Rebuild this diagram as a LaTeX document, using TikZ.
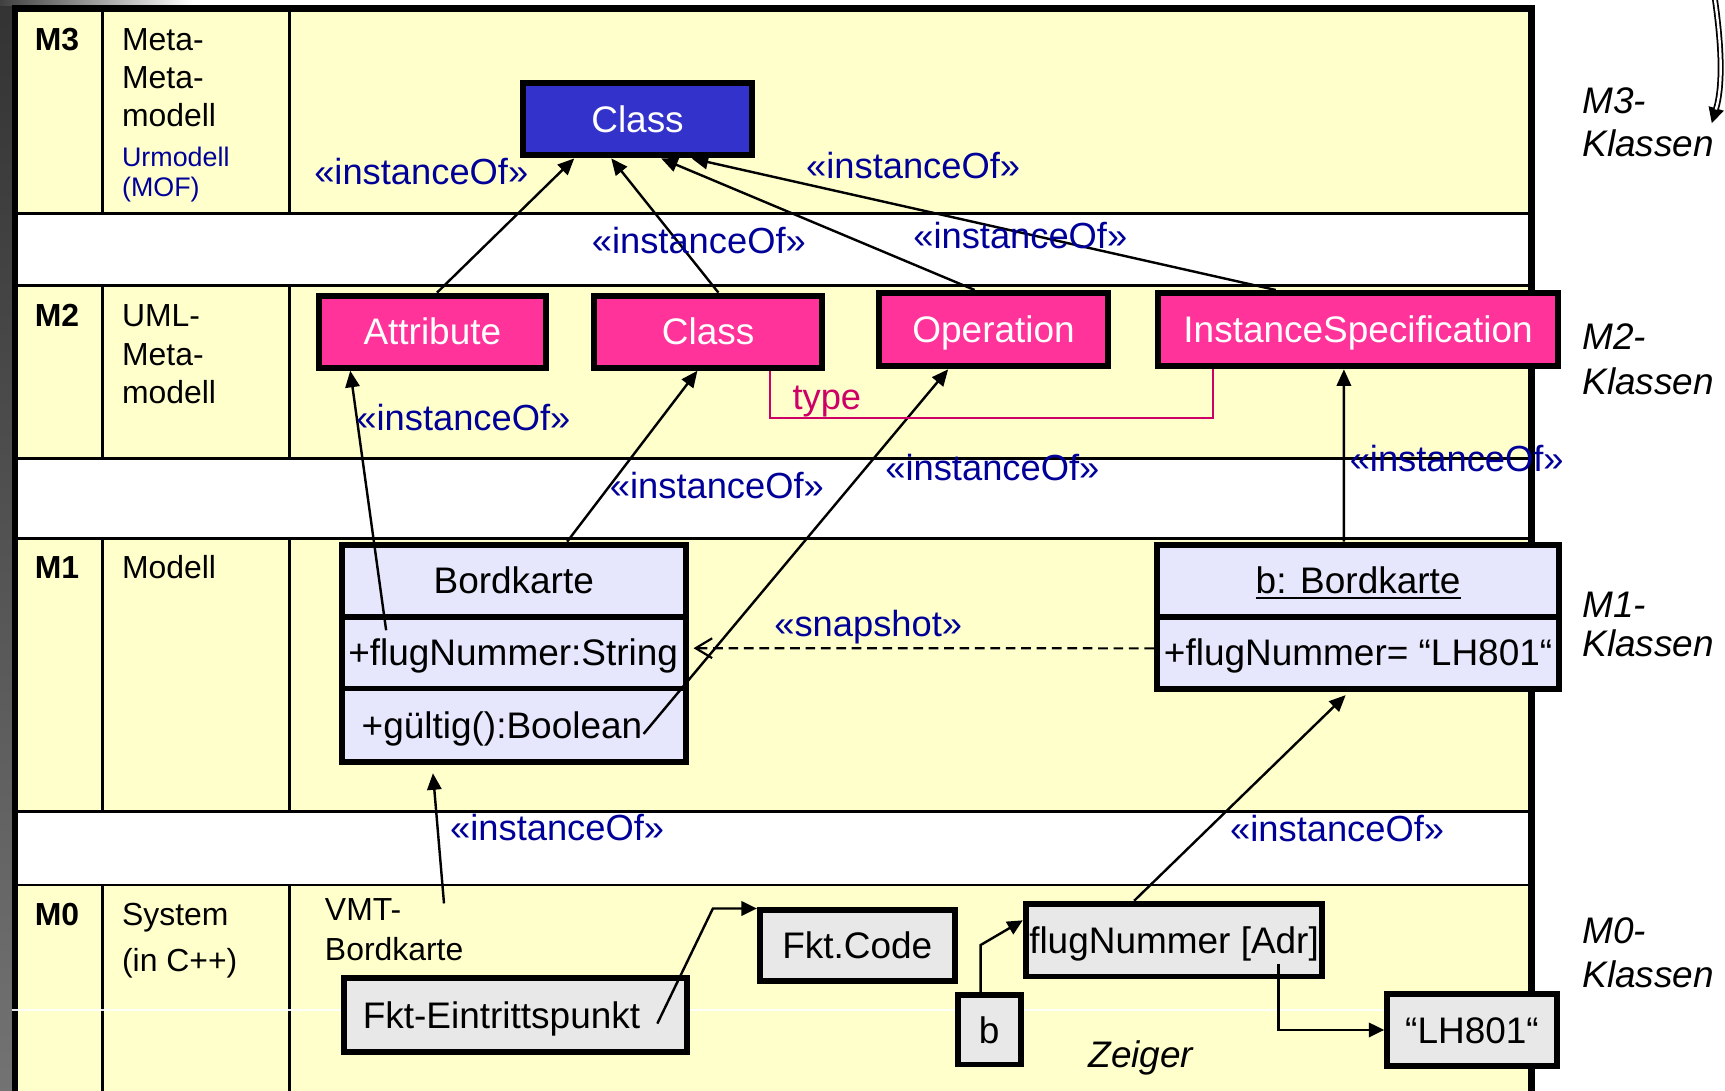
\documentclass[tikz,border=0pt]{standalone}
\usepackage{fontspec}
\setmainfont{Liberation Sans}
\usetikzlibrary{arrows.meta,calc}

\definecolor{rowyellow}{RGB}{255,255,204}
\definecolor{mofblue}{RGB}{51,51,204}
\definecolor{umlpink}{RGB}{255,51,153}
\definecolor{classlav}{RGB}{230,230,252}
\definecolor{cellgray}{RGB}{232,232,232}
\definecolor{stereoblue}{RGB}{0,0,153}
\definecolor{typered}{RGB}{204,0,102}

% underlined object name
\newcommand\ultext[1]{\sbox0{#1}\rlap{\rule[-2.4pt]{\wd0}{0.9pt}}\usebox0}

\begin{document}
\begin{tikzpicture}[x=0.5pt,y=-0.5pt,
  gridline/.style={line width=1.3pt},
  box/.style={draw, line width=2.7pt, inner sep=0pt, text height=12pt, text depth=0pt,
              font=\fontsize{16.8}{20}\selectfont},
  metabox/.style={box, fill=umlpink, text=white, minimum height=32.8pt},
  mofbox/.style={box, fill=mofblue, text=white},
  compart/.style={box, fill=classlav, minimum width=156.3pt},
  objcompart/.style={box, fill=classlav, minimum width=182.8pt},
  cell/.style={box, fill=cellgray},
  rowlabel/.style={anchor=base west, inner sep=0pt, font=\fontsize{14.5}{17}\selectfont},
  mofnote/.style={anchor=base west, inner sep=0pt, text=stereoblue, font=\fontsize{12.2}{14}\selectfont},
  levellabel/.style={anchor=base west, inner sep=0pt, font=\fontsize{16.8}{20}\selectfont\itshape},
  stereo/.style={anchor=base west, inner sep=0pt, text=stereoblue, font=\fontsize{16.5}{20}\selectfont},
  inst/.style={line width=1.1pt, -{Triangle[length=7.5pt,width=6.5pt]}},
  ptr/.style={line width=1.1pt, -{Triangle[length=7pt,width=6.5pt]}},
]
\useasboundingbox (0,0) rectangle (1568,991);
\clip (0,0) rectangle (1568,991);

% page background and dark edges
\fill[white] (0,0) rectangle (1568,991);
\shade[top color=black!80, bottom color=black!55] (0,0) rectangle (11,991);
\shade[left color=black!75, right color=white] (0,0) rectangle (175,4.6);

% level rows
\fill[rowyellow] (13.6,7.75) rectangle (1392,194);
\fill[rowyellow] (13.6,259.7) rectangle (1392,416.7);
\fill[rowyellow] (13.6,489.4) rectangle (1392,737.9);
\fill[rowyellow] (13.6,804.5) rectangle (1392,1000);

\foreach \yy in {194,259.7,416.7,489.4,737.9,804.5}
  \draw[gridline] (13.6,\yy) -- (1392,\yy);
\foreach \xx in {93.2,263}{
  \draw[gridline] (\xx,7.75) -- (\xx,194);
  \draw[gridline] (\xx,259.7) -- (\xx,416.7);
  \draw[gridline] (\xx,489.4) -- (\xx,737.9);
  \draw[gridline] (\xx,804.5) -- (\xx,1000);
}
\draw[line width=3pt] (13.6,1000) |- (1392,7.75) -- (1392,1000);
\draw[white, line width=0.6pt, opacity=0.9] (10.5,918) -- (1415,918);

% row headers
\node[rowlabel] (m3id) at (31.3,45.5) {\bfseries M3};
\node[rowlabel] (m3a) at (110.6,45.5) {Meta-};
\node[rowlabel] (m3b) at (110.6,80) {Meta-};
\node[rowlabel] (m3c) at (110.6,115) {modell};
\node[mofnote] (m3d) at (110.6,151.5) {Urmodell};
\node[mofnote] (m3e) at (110.6,179) {(MOF)};

\node[rowlabel] (m2id) at (31.3,297) {\bfseries M2};
\node[rowlabel] (m2a) at (110.6,297) {UML-};
\node[rowlabel] (m2b) at (110.6,332) {Meta-};
\node[rowlabel] (m2c) at (110.6,366.5) {modell};

\node[rowlabel] (m1id) at (31.3,526) {\bfseries M1};
\node[rowlabel] (m1a) at (110.6,526) {Modell};

\node[rowlabel] (m0id) at (31.3,841) {\bfseries M0};
\node[rowlabel] (m0a) at (110.6,841) {System};
\node[rowlabel] (m0b) at (110.6,883) {(in C++)};
\node[rowlabel] (vmtA) at (295,836.4) {VMT-};
\node[rowlabel] (vmtB) at (295,873) {Bordkarte};

% level names on the right
\node[levellabel] (k3a) at (1438,103) {M3-};
\node[levellabel] (k3b) at (1438,142.4) {Klassen};
\node[levellabel] (k2a) at (1438,318) {M2-};
\node[levellabel] (k2b) at (1438,359) {Klassen};
\node[levellabel] (k1a) at (1438,561) {M1-};
\node[levellabel] (k1b) at (1438,597) {Klassen};
\node[levellabel] (k0a) at (1438,857.6) {M0-};
\node[levellabel] (k0b) at (1438,898) {Klassen};

% M3
\node[mofbox, minimum width=103.8pt, minimum height=32.95pt] (m3cls) at (579.5,108.35) {Class};

% M2
\node[metabox, minimum width=103.3pt] (attr) at (393,301.5) {Attribute};
\node[metabox, minimum width=103.4pt] (cls2) at (643.7,301.5) {Class};
\node[metabox, minimum width=103.75pt, minimum height=33.35pt] (oper) at (903.15,299.65) {Operation};
\node[metabox, minimum width=181.8pt, minimum height=33.35pt] (ispec) at (1234.5,299.65) {InstanceSpecification};

% M1
\node[compart, minimum height=32.75pt] (bkName) at (467,527.85) {Bordkarte};
\node[compart, minimum height=32.6pt, text width=150.4pt, align=left, inner xsep=2.95pt] (bkAttr) at (467,593.2) {+flugNummer:String};
\node[compart, minimum height=33.5pt, text width=138.2pt, align=left, inner xsep=9.05pt] (bkOp) at (467,659.3) {+gültig():Boolean};
\node[objcompart, minimum height=32.75pt] (objName) at (1234.5,527.85) {\ultext{b: Bordkarte}};
\node[objcompart, minimum height=32.75pt] (objAttr) at (1234.5,593.35) {+flugNummer= “LH801“};

% M0
\node[cell, minimum width=156pt, minimum height=33.6pt, text width=138.5pt, align=left, inner xsep=8.75pt] (fktE) at (468.3,922.7) {Fkt-Eintrittspunkt};
\node[cell, minimum width=88.55pt, minimum height=31.9pt] (fktC) at (779.25,859.4) {Fkt.Code};
\node[cell, minimum width=134.8pt, minimum height=33.05pt] (flugA) at (1067.2,854.55) {flugNummer [Adr]};
\node[cell, minimum width=28.8pt, minimum height=31.45pt] (bPtr) at (899.2,936.15) {b};
\node[cell, minimum width=77.05pt, minimum height=32.9pt] (lh) at (1338,936.2) {“LH801“};
\node[levellabel] (zeiger) at (989,970) {Zeiger};

% instanceOf: M2 -> M3
\draw[inst] ($(attr.north west)!0.52!(attr.north east)$) -- ($(m3cls.south west)!0.23!(m3cls.south east)$);
\draw[inst] ($(cls2.north west)!0.544!(cls2.north east)$) -- ($(m3cls.south west)!0.388!(m3cls.south east)$);
\draw[inst] ($(oper.north west)!0.419!(oper.north east)$) -- ($(m3cls.south west)!0.601!(m3cls.south east)$);
\draw[inst] ($(ispec.north west)!0.297!(ispec.north east)$) -- ($(m3cls.south west)!0.731!(m3cls.south east)$);

% instanceOf: M1 -> M2
\draw[inst] ($(bkAttr.north west)+(43,15)$) -- ($(attr.south west)!0.148!(attr.south east)$);
\draw[inst] ($(bkName.north west)!0.6525!(bkName.north east)$) -- ($(cls2.south west)!0.454!(cls2.south east)$);
\draw[inst] ($(bkOp.north east)+(-41,44)$) -- ($(oper.south west)!0.306!(oper.south east)$);
\draw[inst] ($(objName.north west)!0.465!(objName.north east)$) -- ($(ispec.south west)!0.465!(ispec.south east)$);

% type association
\draw[typered, line width=1pt] ($(cls2.south west)!0.765!(cls2.south east)$) -- ++(0,43.3) -| ($(ispec.south west)!0.142!(ispec.south east)$);

% snapshot
\draw[line width=1pt, dash pattern=on 4.4pt off 2.6pt, -{Straight Barb[length=7.5pt,width=9pt]}, shorten >=2.2pt]
  ([yshift=2pt]objAttr.west) -- ([yshift=2pt]bkAttr.east);

% instanceOf: M0 -> M1
\coordinate (vmtTail) at (403.6,821.2);
\draw[inst, shorten >=3.7pt] (vmtTail) -- ($(bkOp.south west)!0.267!(bkOp.south east)$);
\draw[inst, shorten >=2.2pt] ($(flugA.north west)!0.368!(flugA.north east)$) -- ($(objAttr.south west)!0.478!(objAttr.south east)$);

% pointers in the running system
\draw[ptr] ($(fktE.north east)+(-29.5,44)$) -- ($(fktC.north west)+(-40,1)$) -- ($(fktC.north west)+(0,1)$);
\draw[ptr] ($(bPtr.north west)!0.376!(bPtr.north east)$) -- ++(0,-43) -- ([yshift=9pt]flugA.west);
\draw[ptr] ($(flugA.south west)+(232.3,-14.5)$) |- (lh.west);

% hollow arrow coming in from above
\coordinate (ctop) at (1558.5,-3);
\coordinate (ctip) at (1556,112);
\draw[line width=0.8pt, -{Triangle[length=7pt,width=7pt]}] (ctop) .. controls (1564,35) and (1567,75) .. (ctip);
\draw[line width=0.8pt, double=white, double distance=1.1pt, shorten >=6.5pt] (ctop) .. controls (1564,35) and (1567,75) .. (ctip);

% stereotype labels
\node[stereo] (s1) at (285.3,168) {«instanceOf»};
\node[stereo] (s2) at (732.4,162) {«instanceOf»};
\node[stereo] (s3) at (537.6,230) {«instanceOf»};
\node[stereo] (s4) at (829.8,226) {«instanceOf»};
\node[stereo] (s5) at (323.6,391) {«instanceOf»};
\node[stereo] (s6) at (554,453) {«instanceOf»};
\node[stereo] (s7) at (804.4,436.4) {«instanceOf»};
\node[stereo] (s8) at (1226.5,429) {«instanceOf»};
\node[stereo] (s9) at (408.8,763.6) {«instanceOf»};
\node[stereo] (s10) at (1117.8,765) {«instanceOf»};
\node[stereo] (snap) at (703.5,579) {«snapshot»};
\node[stereo, text=typered] (typelbl) at (720,372) {type};

\end{tikzpicture}
\end{document}
